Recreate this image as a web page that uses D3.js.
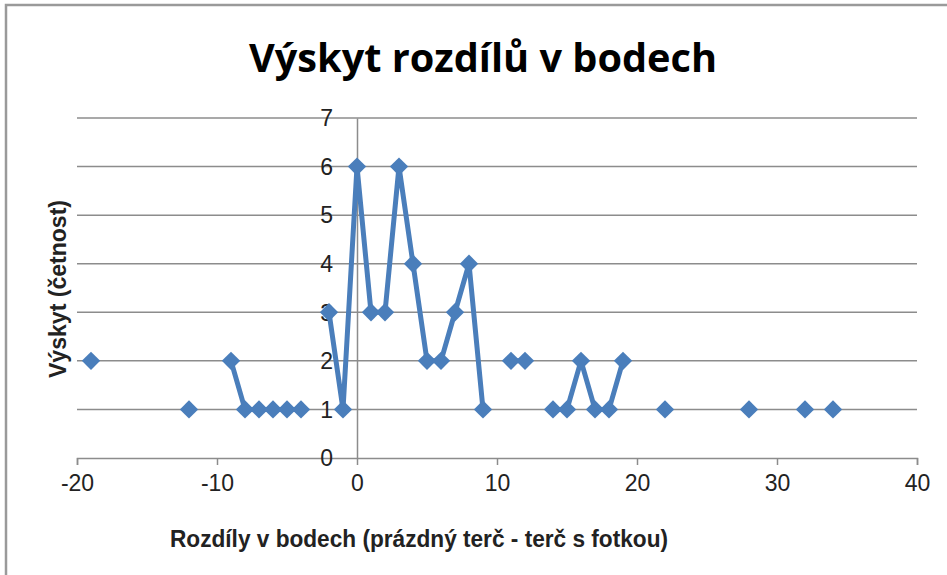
<!DOCTYPE html>
<html lang="cs">
<head>
  <meta charset="UTF-8">
  <title>Výskyt rozdílů v bodech</title>
  <script src="https://cdn.jsdelivr.net/npm/d3@7"></script>
  <style>
    body { margin: 0; background: #fff; }
    svg text { font-family: "Liberation Sans Narrow", "Liberation Sans", sans-serif; }
  </style>
</head>
<body>
<div id="app"></div>
<script>
  // differences (x) and how often they occurred (y)
  const diffs = [-19, -12, -9, -8, -7, -6, -5, -4, -2, -1, 0, 1, 2, 3, 4, 5, 6, 7, 8, 9,
    11, 12, 14, 15, 16, 17, 18, 19, 22, 28, 32, 34];
  const counts = [2, 1, 2, 1, 1, 1, 1, 1, 3, 1, 6, 3, 3, 6, 4, 2, 2, 3, 4, 1,
    2, 2, 1, 1, 2, 1, 1, 2, 1, 1, 1, 1];
  const xTicks = [-20, -10, 0, 10, 20, 30, 40];
  const yTicks = [0, 1, 2, 3, 4, 5, 6, 7];

  const w = 947;
  const h = 575;
  const blue = '#4a7ebb';

  const x = d3.scaleLinear().domain([-20, 40]).range([77, 917]);
  const y = d3.scaleLinear().domain([0, 7]).range([458, 118]);

  const svg = d3.select('#app')
    .append('svg')
    .attr('width', w)
    .attr('height', h);

  // chart frame
  svg.append('rect')
    .attr('x', 6).attr('y', 5)
    .attr('width', w + 10).attr('height', h + 10)
    .attr('fill', 'none')
    .attr('stroke', '#9a9a9a')
    .attr('stroke-width', 2.5);

  // horizontal gridlines
  svg.append('g')
    .selectAll('line')
    .data(yTicks.slice(1))
    .enter()
    .append('line')
    .attr('x1', x(-20)).attr('x2', x(40))
    .attr('y1', d => y(d)).attr('y2', d => y(d))
    .attr('stroke', '#8c8c8c')
    .attr('stroke-width', 1.5);

  // x axis
  const xAxis = d3.axisBottom(x).tickValues(xTicks).tickSize(7).tickPadding(10);
  const gx = svg.append('g')
    .attr('transform', `translate(0, ${y(0)})`)
    .call(xAxis);
  gx.select('.domain').attr('stroke', '#8c8c8c').attr('stroke-width', 1.5);
  gx.selectAll('.tick line').attr('stroke', '#8c8c8c').attr('stroke-width', 1.5);
  gx.selectAll('.tick text')
    .attr('font-size', 23)
    .attr('fill', '#222')
    .style('font-family', '"Liberation Sans Narrow", sans-serif')
    .text(d => d < 0 ? '-' + Math.abs(d) : d);

  // y axis sits at x = 0
  const yAxis = d3.axisLeft(y).tickValues(yTicks).tickSize(0).tickPadding(24).tickFormat(d3.format('d'));
  const gy = svg.append('g')
    .attr('transform', `translate(${x(0)}, 0)`)
    .call(yAxis);
  gy.select('.domain').attr('stroke', '#8c8c8c').attr('stroke-width', 1.5);
  gy.selectAll('.tick text')
    .attr('font-size', 23)
    .attr('fill', '#222')
    .attr('dy', '0.34em')
    .style('font-family', '"Liberation Sans Narrow", sans-serif');

  // series with gaps where a difference is missing
  const pts = [];
  diffs.forEach((d, i) => {
    if (i > 0 && d - diffs[i - 1] > 1) pts.push(null);
    pts.push([d, counts[i]]);
  });

  const line = d3.line()
    .defined(d => d !== null)
    .x(d => x(d[0]))
    .y(d => y(d[1]));

  svg.append('path')
    .datum(pts)
    .attr('d', line)
    .attr('fill', 'none')
    .attr('stroke', blue)
    .attr('stroke-width', 5)
    .attr('stroke-linejoin', 'round');

  svg.append('g')
    .selectAll('path')
    .data(diffs.map((d, i) => [d, counts[i]]))
    .enter()
    .append('path')
    .attr('d', d3.symbol().type(d3.symbolDiamond2).size(215))
    .attr('transform', d => `translate(${x(d[0])}, ${y(d[1])})`)
    .attr('fill', blue);

  // titles
  svg.append('text')
    .attr('x', 483).attr('y', 72)
    .attr('text-anchor', 'middle')
    .attr('font-size', 40)
    .attr('font-weight', 'bold')
    .style('font-family', '"Open Sans", sans-serif')
    .attr('textLength', 468)
    .attr('lengthAdjust', 'spacingAndGlyphs')
    .text('Výskyt rozdílů v bodech');

  svg.append('text')
    .attr('x', 419).attr('y', 547)
    .attr('text-anchor', 'middle')
    .attr('font-size', 23)
    .attr('font-weight', 'bold')
    .attr('fill', '#222')
    .attr('textLength', 498)
    .attr('lengthAdjust', 'spacingAndGlyphs')
    .text('Rozdíly v bodech (prázdný terč - terč s fotkou)');

  svg.append('text')
    .attr('transform', 'translate(66, 289) rotate(-90)')
    .attr('text-anchor', 'middle')
    .attr('font-size', 23)
    .attr('font-weight', 'bold')
    .attr('fill', '#222')
    .attr('textLength', 178)
    .attr('lengthAdjust', 'spacingAndGlyphs')
    .text('Výskyt (četnost)');
</script>
</body>
</html>
